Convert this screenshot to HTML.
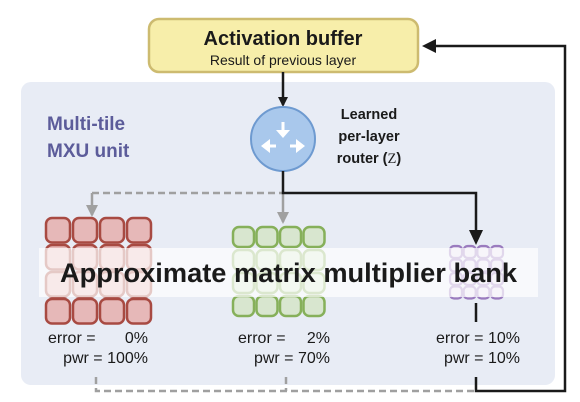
<!DOCTYPE html>
<html><head><style>html,body{margin:0;padding:0;background:#fff}svg{display:block}</style></head>
<body>
<svg width="580" height="402" viewBox="0 0 580 402" xmlns="http://www.w3.org/2000/svg" font-family="Liberation Sans, sans-serif">
<defs>
<marker id="ab" markerWidth="10" markerHeight="10" refX="8" refY="5" orient="auto" markerUnits="userSpaceOnUse"><path d="M0,0 L10,5 L0,10 z" fill="#1a1a1a"/></marker>
<marker id="ag" markerWidth="12" markerHeight="12" refX="10" refY="6" orient="auto" markerUnits="userSpaceOnUse"><path d="M0,0 L12,6 L0,12 z" fill="#a0a0a0"/></marker>
</defs>
<rect x="21" y="82" width="534" height="303" rx="10" fill="#e8ecf5"/>
<rect x="149" y="19" width="269" height="53" rx="10" fill="#f7eeaa" stroke="#cdbb70" stroke-width="2.5"/>
<text x="283" y="45" text-anchor="middle" font-weight="bold" font-size="20" fill="#1a1a1a">Activation buffer</text>
<text x="283" y="65" text-anchor="middle" font-size="14" fill="#1a1a1a">Result of previous layer</text>
<line x1="283" y1="72" x2="283" y2="105" stroke="#1a1a1a" stroke-width="2.5" marker-end="url(#ab)"/>
<circle cx="283" cy="139" r="32" fill="#a9c8ec" stroke="#6e9ad0" stroke-width="2"/>
<g fill="#fff" stroke="#fff" stroke-width="3">
<line x1="283" y1="122" x2="283" y2="131"/><path d="M276,130 L290,130 L283,138 z" stroke="none"/>
<line x1="276" y1="146" x2="269" y2="146"/><path d="M270,139 L270,153 L261,146 z" stroke="none"/>
<line x1="290" y1="146" x2="297" y2="146"/><path d="M296,139 L296,153 L305,146 z" stroke="none"/>
</g>
<text font-weight="bold" font-size="14.5" fill="#1a1a1a" text-anchor="middle"><tspan x="369" y="119">Learned</tspan><tspan x="369" y="141">per-layer</tspan><tspan x="369" y="163">router (<tspan font-family="Liberation Serif, serif" font-weight="normal">Z</tspan>)</tspan></text>
<text font-weight="bold" font-size="19" fill="#5c5c9a"><tspan x="47" y="130">Multi-tile</tspan><tspan x="47" y="157">MXU unit</tspan></text>
<path d="M92,193 L283,193" stroke="#a0a0a0" stroke-width="2.5" stroke-dasharray="7,4" fill="none"/>
<line x1="92" y1="193" x2="92" y2="215" stroke="#a0a0a0" stroke-width="2.5" marker-end="url(#ag)"/>
<line x1="283" y1="193" x2="283" y2="222" stroke="#a0a0a0" stroke-width="2.5" marker-end="url(#ag)"/>
<path d="M283,171 L283,193 L476,193 L476,236" stroke="#1a1a1a" stroke-width="2.5" fill="none"/>
<path d="M469,230 L483,230 L476,245 z" fill="#1a1a1a"/>
<g fill="#e6b8b8" stroke="#a84a42" stroke-width="2.5">
<rect x="46" y="218" width="24" height="24.5" rx="6"/><rect x="73" y="218" width="24" height="24.5" rx="6"/><rect x="100" y="218" width="24" height="24.5" rx="6"/><rect x="127" y="218" width="24" height="24.5" rx="6"/>
<rect x="46" y="245" width="24" height="24.5" rx="6"/><rect x="73" y="245" width="24" height="24.5" rx="6"/><rect x="100" y="245" width="24" height="24.5" rx="6"/><rect x="127" y="245" width="24" height="24.5" rx="6"/>
<rect x="46" y="272" width="24" height="24.5" rx="6"/><rect x="73" y="272" width="24" height="24.5" rx="6"/><rect x="100" y="272" width="24" height="24.5" rx="6"/><rect x="127" y="272" width="24" height="24.5" rx="6"/>
<rect x="46" y="299" width="24" height="24.5" rx="6"/><rect x="73" y="299" width="24" height="24.5" rx="6"/><rect x="100" y="299" width="24" height="24.5" rx="6"/><rect x="127" y="299" width="24" height="24.5" rx="6"/>
</g>
<g fill="#d8e6cf" stroke="#86b05a" stroke-width="2.5">
<rect x="233" y="227" width="21" height="20" rx="6"/><rect x="256.5" y="227" width="21" height="20" rx="6"/><rect x="280" y="227" width="21" height="20" rx="6"/><rect x="303.5" y="227" width="21" height="20" rx="6"/>
<rect x="233" y="250" width="21" height="20" rx="6"/><rect x="256.5" y="250" width="21" height="20" rx="6"/><rect x="280" y="250" width="21" height="20" rx="6"/><rect x="303.5" y="250" width="21" height="20" rx="6"/>
<rect x="233" y="273" width="21" height="20" rx="6"/><rect x="256.5" y="273" width="21" height="20" rx="6"/><rect x="280" y="273" width="21" height="20" rx="6"/><rect x="303.5" y="273" width="21" height="20" rx="6"/>
<rect x="233" y="296" width="21" height="20" rx="6"/><rect x="256.5" y="296" width="21" height="20" rx="6"/><rect x="280" y="296" width="21" height="20" rx="6"/><rect x="303.5" y="296" width="21" height="20" rx="6"/>
</g>
<g fill="#e4dcef" stroke="#9a7bbe" stroke-width="2.2">
<rect x="450" y="246" width="12" height="12" rx="4"/><rect x="463.7" y="246" width="12" height="12" rx="4"/><rect x="477.4" y="246" width="12" height="12" rx="4"/><rect x="491" y="246" width="12" height="12" rx="4"/>
<rect x="450" y="259.5" width="12" height="12" rx="4"/><rect x="463.7" y="259.5" width="12" height="12" rx="4"/><rect x="477.4" y="259.5" width="12" height="12" rx="4"/><rect x="491" y="259.5" width="12" height="12" rx="4"/>
<rect x="450" y="273" width="12" height="12" rx="4"/><rect x="463.7" y="273" width="12" height="12" rx="4"/><rect x="477.4" y="273" width="12" height="12" rx="4"/><rect x="491" y="273" width="12" height="12" rx="4"/>
<rect x="450" y="286.5" width="12" height="12" rx="4"/><rect x="463.7" y="286.5" width="12" height="12" rx="4"/><rect x="477.4" y="286.5" width="12" height="12" rx="4"/><rect x="491" y="286.5" width="12" height="12" rx="4"/>
</g>
<rect x="39" y="248" width="499" height="49" fill="#ffffff" fill-opacity="0.7"/>
<text x="60" y="282" font-weight="bold" font-size="27" fill="#1a1a1a" textLength="457" lengthAdjust="spacingAndGlyphs">Approximate matrix multiplier bank</text>
<g font-size="16" fill="#1a1a1a">
<text x="48" y="343">error =</text><text x="148" y="343" text-anchor="end">0%</text>
<text x="148" y="363" text-anchor="end">pwr = 100%</text>
<text x="238" y="343">error =</text><text x="330" y="343" text-anchor="end">2%</text>
<text x="330" y="363" text-anchor="end">pwr = 70%</text>
<text x="520" y="343" text-anchor="end">error = 10%</text>
<text x="520" y="363" text-anchor="end">pwr = 10%</text>
</g>
<line x1="476" y1="303" x2="476" y2="322" stroke="#1a1a1a" stroke-width="2.5"/>
<path d="M96,377 L96,391 L476,391 M286,377 L286,391" stroke="#a0a0a0" stroke-width="2.5" stroke-dasharray="7,4" fill="none"/>
<path d="M476,377 L476,391 L565,391 L565,46 L432,46" stroke="#1a1a1a" stroke-width="2.5" fill="none"/>
<path d="M422,46 L436,39 L436,53 z" fill="#1a1a1a"/>
</svg>
</body></html>
